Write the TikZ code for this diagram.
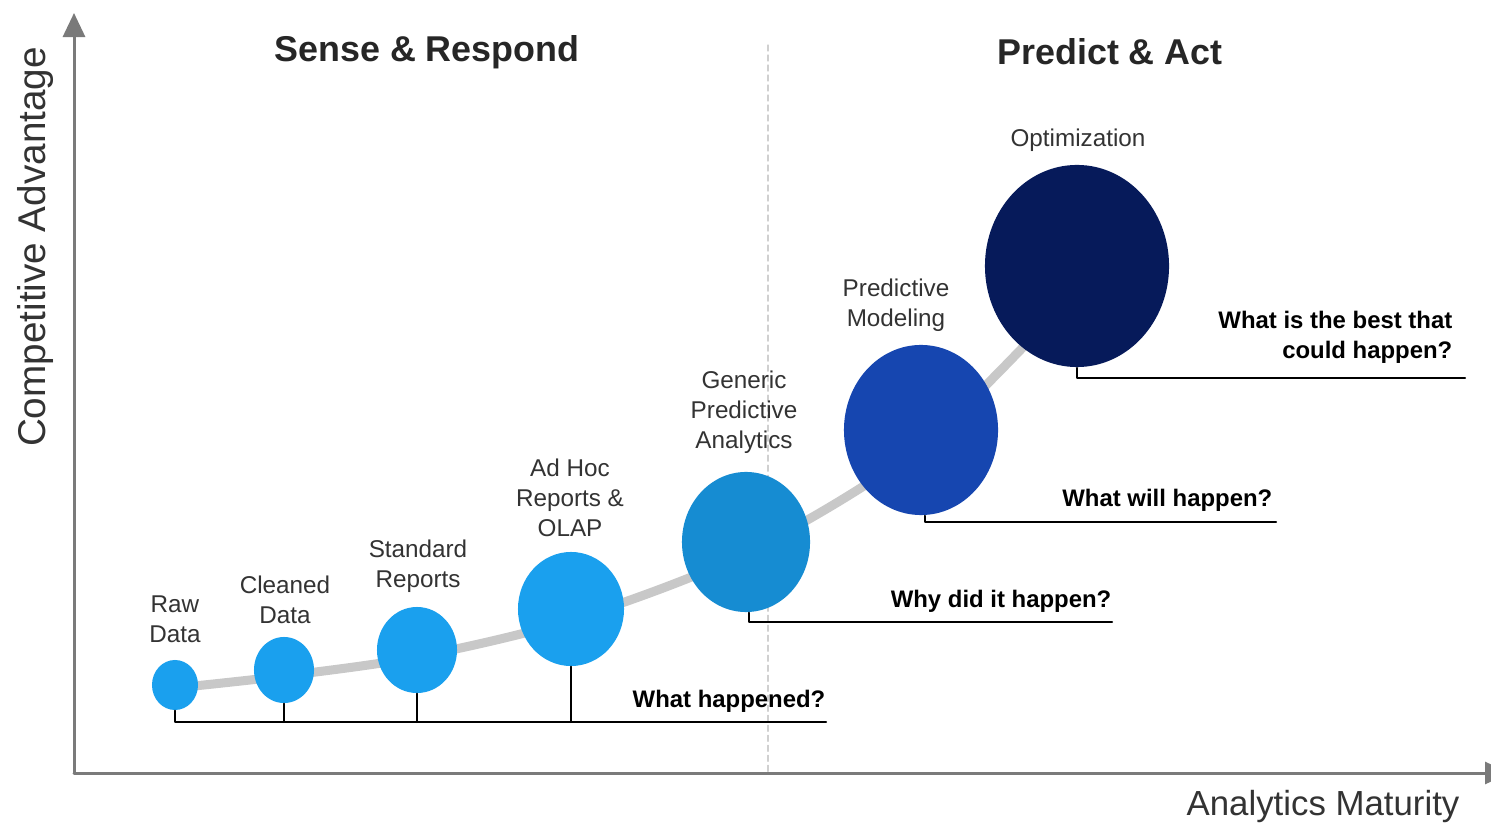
\documentclass[tikz,border=0pt]{standalone}
\usepackage{fontspec}
\setmainfont{Liberation Sans}
\usetikzlibrary{arrows.meta,shapes.geometric}
\definecolor{waaqgg}{rgb}{0.102,0.627,0.933}
\definecolor{wuodfe}{rgb}{0.086,0.549,0.824}
\definecolor{wutusq}{rgb}{0.086,0.275,0.690}
\definecolor{quwaza}{rgb}{0.024,0.102,0.353}
\definecolor{dododo}{rgb}{0.784,0.784,0.784}
\definecolor{iaiaia}{rgb}{0.478,0.478,0.478}
\definecolor{dfdfdf}{rgb}{0.816,0.816,0.816}
\definecolor{rrrrrr}{rgb}{0.2,0.2,0.2}
\begin{document}
\begin{tikzpicture}[line cap=round,line join=round,x=0.01cm,y=-0.01cm,
bub/.style={ellipse,inner sep=0pt,draw=none},
lbl/.style={align=center,text=rrrrrr,inner sep=0pt,font=\fontsize{6.9}{8.6}\selectfont},
qst/.style={align=right,anchor=east,inner sep=0pt,font=\bfseries\fontsize{6.8}{8.5}\selectfont},
stem/.style={black,line width=0.02cm},
axis/.style={iaiaia,line width=0.03cm,-{Triangle[width=0.22cm,length=0.24cm]}}]
\clip (0,0) rectangle (1491,828);
\fill[white] (0,0) rectangle (1491,828);
\coordinate (o) at (74,773);
\draw [dfdfdf,line width=0.012cm,dash pattern=on 0.06cm off 0.04cm] (768,45) -- (768,775);
\draw [axis] (o) -- (74,13);
\draw [axis] (o) -- (1509,773);
\draw [dododo,line width=0.09cm] plot[smooth] coordinates {(175,688) (284,676) (417,657) (571,620) (746,553) (921,446) (1077,290)};
\node[bub,fill=waaqgg,minimum width=0.46cm,minimum height=0.50cm] (c1) at (175,685) {};
\node[bub,fill=waaqgg,minimum width=0.60cm,minimum height=0.66cm] (c2) at (284,670) {};
\node[bub,fill=waaqgg,minimum width=0.80cm,minimum height=0.86cm] (c3) at (417,650) {};
\node[bub,fill=waaqgg,minimum width=1.06cm,minimum height=1.14cm] (c4) at (571,609) {};
\node[bub,fill=wuodfe,minimum width=1.28cm,minimum height=1.40cm] (c5) at (746,542) {};
\node[bub,fill=wutusq,minimum width=1.54cm,minimum height=1.70cm] (c6) at (921,430) {};
\node[bub,fill=quwaza,minimum width=1.84cm,minimum height=2.02cm] (c7) at (1077,266) {};
\coordinate (b1) at (826,722);
\coordinate (b2) at (1112,622);
\coordinate (b3) at (1276,522);
\coordinate (b4) at (1465,378);
\draw [stem] (c1.south) |- (b1);
\draw [stem] (c2.south) -- (c2.south |- b1);
\draw [stem] (c3.south) -- (c3.south |- b1);
\draw [stem] (c4.south) -- (c4.south |- b1);
\draw [stem] ([xshift=0.03cm]c5.south) |- (b2);
\draw [stem] ([xshift=0.04cm]c6.south) |- (b3);
\draw [stem] (c7.south) |- (b4);
\node[lbl] (t1) at (175,619) {Raw\\Data};
\node[lbl] (t2) at (285,600) {Cleaned\\Data};
\node[lbl] (t3) at (418,566) {Standard\\Reports};
\node[lbl] (t4) at (570,498) {Ad Hoc\\Reports \&\\OLAP};
\node[lbl] (t5) at (744,412) {Generic\\Predictive\\Analytics};
\node[lbl] (t6) at (896,305) {Predictive\\Modeling};
\node[lbl] (t7) at (1078,140) {Optimization};
\node[qst] (q1) at (826,701) {What happened?};
\node[qst] (q2) at (1112,601) {Why did it happen?};
\node[qst] (q3) at (1273,500) {What will happen?};
\node[qst] (q4) at (1453,337) {What is the best that\\could happen?};
\node[font=\bfseries\fontsize{10.2}{12}\selectfont,text=black!85] (h1) at (427,52) {Sense \& Respond};
\node[font=\bfseries\fontsize{10.2}{12}\selectfont,text=black!85] (h2) at (1110,52) {Predict \& Act};
\node[font=\fontsize{11}{13}\selectfont,text=rrrrrr,rotate=90] (ya) at (35,247) {Competitive Advantage};
\node[font=\fontsize{9.9}{12}\selectfont,text=rrrrrr] (xa) at (1323,806) {Analytics Maturity};
\end{tikzpicture}
\end{document}
